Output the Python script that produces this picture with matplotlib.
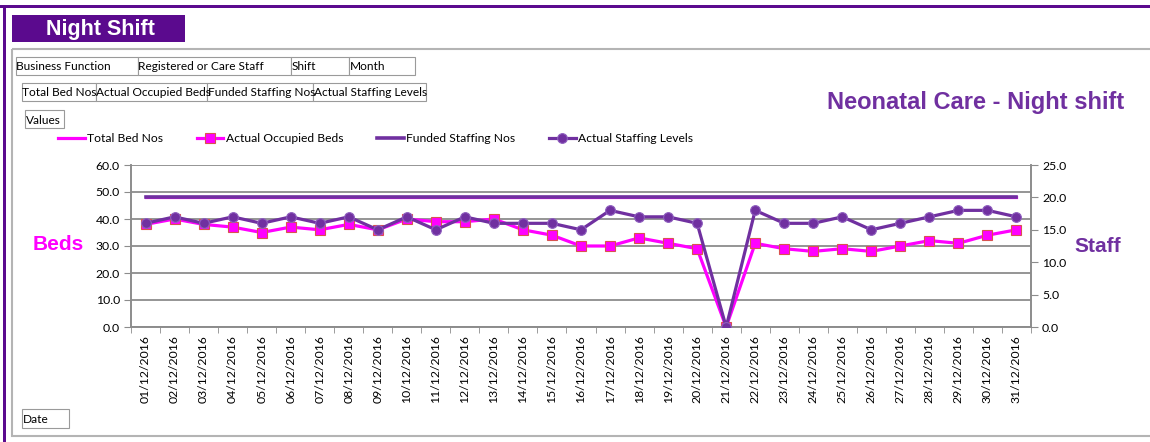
import matplotlib
matplotlib.use("Agg")
import matplotlib.pyplot as plt
from matplotlib.patches import Rectangle

MAGENTA = "#ff00ff"
PURPLE = "#7030a0"
BANNER = "#5b0a8e"
GRID = "#8c8c8c"
BOX_EDGE = "#9a9a9a"
TEXT_FONT = ["Lato", "DejaVu Sans"]
HEAD_FONT = ["Liberation Sans", "DejaVu Sans"]

dates = [f"{d:02d}/12/2016" for d in range(1, 32)]
total_beds = [48] * 31
occupied_beds = [38, 40, 38, 37, 35, 37, 36, 38, 36, 40, 39, 39, 40, 36, 34, 30,
                 30, 33, 31, 29, 0, 31, 29, 28, 29, 28, 30, 32, 31, 34, 36]
funded_staff = [20] * 31
actual_staff = [16, 17, 16, 17, 16, 17, 16, 17, 15, 17, 15, 17, 16, 16, 16, 15,
                18, 17, 17, 16, 0, 18, 16, 16, 17, 15, 16, 17, 18, 18, 17]

field_row1 = [("Business Function", 16, 138), ("Registered or Care Staff", 138, 291),
              ("Shift", 291, 349), ("Month", 349, 415)]
field_row2 = [("Total Bed Nos", 22, 96), ("Actual Occupied Beds", 96, 207),
              ("Funded Staffing Nos", 207, 313), ("Actual Staffing Levels", 313, 426)]

W, H = 1150, 442
fig = plt.figure(figsize=(W / 100, H / 100), dpi=100)

# page furniture in pixel coordinates
bg = fig.add_axes([0, 0, 1, 1])
bg.set_xlim(0, W)
bg.set_ylim(H, 0)
bg.axis("off")
bg.add_patch(Rectangle((0, 5), W, 2.5, facecolor=BANNER, edgecolor="none"))
bg.add_patch(Rectangle((3, 5), 2.5, H, facecolor=BANNER, edgecolor="none"))
bg.add_patch(Rectangle((12, 49), 1160, 387, facecolor="none", edgecolor="#b4b4b4", lw=1.5))
bg.add_patch(Rectangle((12, 15), 173, 27, facecolor=BANNER, edgecolor="none"))
bg.text(100, 29, "Night Shift", color="white", fontsize=15.5, fontweight="bold",
        family=HEAD_FONT, ha="center", va="center")


def field_box(label, x0, x1, y0, y1):
    bg.add_patch(Rectangle((x0, y0), x1 - x0, y1 - y0, facecolor="white",
                           edgecolor=BOX_EDGE, lw=0.8))
    bg.text(x0 + 0.5, (y0 + y1) / 2 + 1, label, fontsize=8.6, family=TEXT_FONT,
            ha="left", va="center")


for label, x0, x1 in field_row1:
    field_box(label, x0, x1, 57, 75)
for label, x0, x1 in field_row2:
    field_box(label, x0, x1, 83, 101)
field_box("Values", 25, 64, 110, 128)
field_box("Date", 22, 69, 409, 428)

bg.text(1124, 102, "Neonatal Care - Night shift", color=PURPLE, fontsize=17,
        fontweight="bold", family=HEAD_FONT, ha="right", va="center")
bg.text(58, 244, "Beds", color=MAGENTA, fontsize=15, fontweight="bold",
        family=HEAD_FONT, ha="center", va="center")
bg.text(1098, 247, "Staff", color=PURPLE, fontsize=15, fontweight="bold",
        family=HEAD_FONT, ha="center", va="center")

# chart
ax = fig.add_axes([131 / W, 1 - 327 / H, 900 / W, 162 / H])
ax2 = ax.twinx()
x = list(range(len(dates)))

l1, = ax.plot(x, total_beds, color=MAGENTA, lw=2.3, zorder=3)
l2, = ax.plot(x, occupied_beds, color=MAGENTA, lw=2.3, marker="s", ms=6.5,
              mfc=MAGENTA, mec="#d9534f", mew=0.8, zorder=4)
l3, = ax2.plot(x, funded_staff, color=PURPLE, lw=2.6, zorder=3)
l4, = ax2.plot(x, actual_staff, color=PURPLE, lw=2.3, marker="o", ms=7,
               mfc=PURPLE, mec="#8f5fbf", mew=0.8, zorder=4)

ax.set_xlim(-0.5, len(dates) - 0.5)
ax.set_ylim(0, 60)
ax2.set_ylim(0, 25)
ax.set_yticks(range(0, 61, 10))
ax2.set_yticks(range(0, 26, 5))
ax.set_yticklabels([f"{v:.1f}" for v in range(0, 61, 10)])
ax2.set_yticklabels([f"{v:.1f}" for v in range(0, 26, 5)])
ax.set_xticks(x)
ax.set_xticklabels(dates, rotation=90)
ax.set_xticks([i - 0.5 for i in range(len(dates) + 1)], minor=True)
ax.tick_params(axis="x", which="major", length=0, pad=6)
ax.tick_params(axis="x", which="minor", length=4, color=GRID, direction="out")
ax.tick_params(axis="y", length=5, color=GRID, pad=3)
ax2.tick_params(axis="y", length=5, color=GRID, pad=3)
for a in (ax, ax2):
    for lab in a.get_xticklabels() + a.get_yticklabels():
        lab.set_family(TEXT_FONT)
        lab.set_fontsize(8.8)
ax.grid(axis="y", color=GRID, lw=1.3)
ax.set_axisbelow(True)
for a in (ax, ax2):
    a.spines["top"].set_visible(False)
    for s in ("left", "right", "bottom"):
        a.spines[s].set_color(GRID)
        a.spines[s].set_linewidth(1.2)
    a.patch.set_visible(False)

leg = ax.legend([l1, l2, l3, l4],
                ["Total Bed Nos", "Actual Occupied Beds", "Funded Staffing Nos",
                 "Actual Staffing Levels"],
                ncol=4, loc="center left", bbox_to_anchor=(58 / W, 1 - 139 / H),
                bbox_transform=fig.transFigure, frameon=False, handlelength=2.2,
                handletextpad=0.2, columnspacing=2.8, borderpad=0, borderaxespad=0,
                prop={"family": TEXT_FONT, "size": 8.7})

fig.savefig("out.png", dpi=100)
